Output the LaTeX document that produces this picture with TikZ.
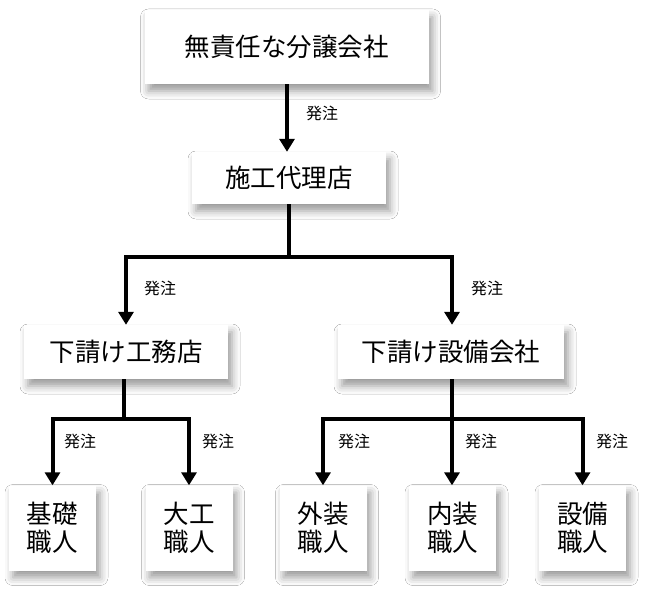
\documentclass[tikz,border=0pt]{standalone}
\usepackage{fontspec}
\newfontfamily\jp{Noto Sans CJK JP}
\usetikzlibrary{arrows.meta,shadows.blur}
\begin{document}
\begin{tikzpicture}[x=1pt,y=-1pt,
  box/.style={fill=white, inner sep=0pt, align=center, font=\jp\fontsize{25.5}{28}\selectfont,
    blur shadow={shadow xshift=4pt, shadow yshift=-7pt, shadow blur radius=8pt, shadow opacity=40}},
  leaf/.style={box, minimum width=87pt, minimum height=85pt},
  conn/.style={line width=4pt, line join=miter},
  arr/.style={conn, -{Triangle[width=15pt,length=13pt]}},
  lbl/.style={font=\jp\fontsize{16}{18}\selectfont, inner sep=0pt}]
\fill[white] (0,0) rectangle (650,596);
\useasboundingbox (0,0) rectangle (650,596);
% boxes
\node[box, minimum width=284pt, minimum height=74pt] (top) at (286.5,47) {無責任な分譲会社};
\node[box, minimum width=194pt, minimum height=52pt] (agent) at (289,178) {施工代理店};
\node[box, minimum width=204pt, minimum height=54pt] (koumu) at (126,352) {下請け工務店};
\node[box, minimum width=226pt, minimum height=54pt] (setsubi) at (451,352) {下請け設備会社};
\node[leaf] (kiso) at (52.5,528) {基礎\\職人};
\node[leaf] (daiku) at (189,528) {大工\\職人};
\node[leaf] (gaisou) at (323,528) {外装\\職人};
\node[leaf] (naisou) at (452.5,528) {内装\\職人};
\node[leaf] (setsubishoku) at (582.5,528) {設備\\職人};
% junctions
\coordinate (j1) at (289,257);
\coordinate (j2) at (124,419);
\coordinate (j3) at (452,419);
% connectors
\draw[arr] (top.south -| 287,0) -- (287,0 |- agent.north);
\draw[conn] (agent.south) -- (j1);
\draw[arr] (j1) -| (koumu.north);
\draw[arr] (j1) -| (452,0 |- setsubi.north);
\draw[conn] (124,0 |- koumu.south) -- (j2);
\draw[arr] (j2) -| (kiso.north);
\draw[arr] (j2) -| (daiku.north);
\draw[conn] (setsubi.south -| j3) -- (j3);
\draw[arr] (j3) -| (gaisou.north);
\draw[arr] (j3) -- (j3 |- naisou.north);
\draw[arr] (j3) -| (setsubishoku.north);
% labels
\node[lbl] (l1) at (322,113) {発注};
\node[lbl] (l2) at (160,288) {発注};
\node[lbl] (l3) at (487,288) {発注};
\node[lbl] (l4) at (80,441) {発注};
\node[lbl] (l5) at (218,441) {発注};
\node[lbl] (l6) at (354,441) {発注};
\node[lbl] (l7) at (481,441) {発注};
\node[lbl] (l8) at (612,441) {発注};
\end{tikzpicture}
\end{document}
